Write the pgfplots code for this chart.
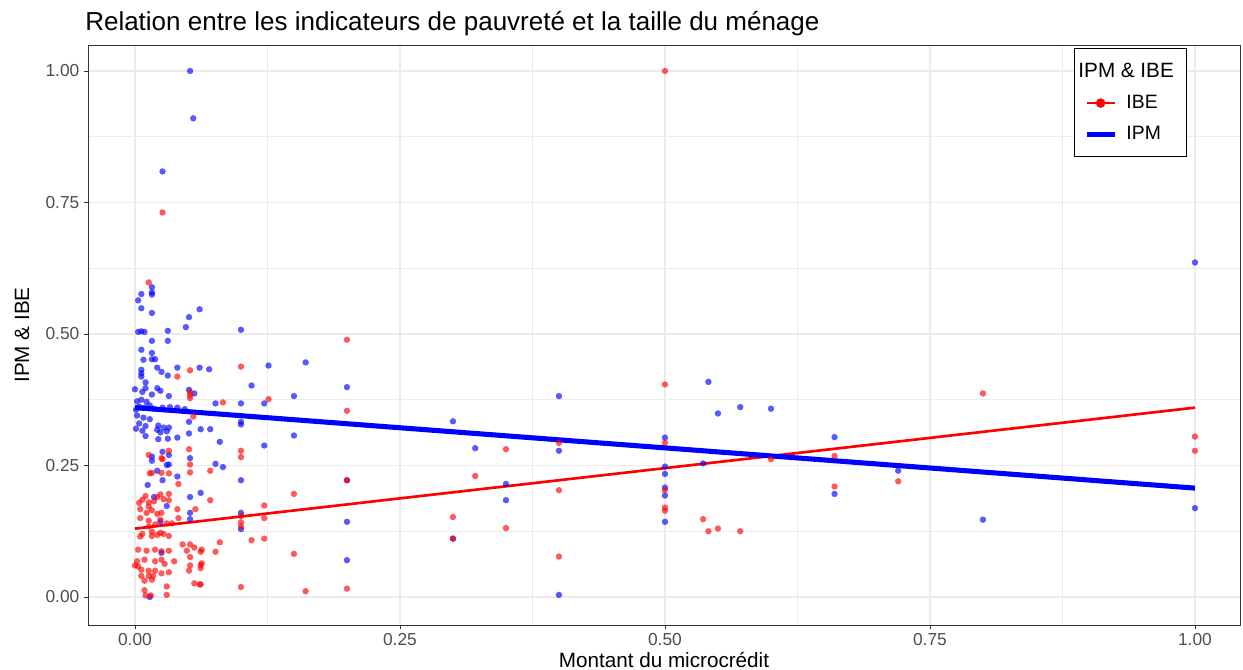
\documentclass[border=0pt]{standalone}
\usepackage{pgfplots}
\usepackage{pgfplotstable}
\pgfplotsset{compat=1.18}
\usepackage{fontspec}
\setmainfont{Liberation Sans}
\definecolor{gridgray}{RGB}{235,235,235}
\definecolor{gray20}{RGB}{51,51,51}
\definecolor{gray30}{RGB}{77,77,77}

\pgfplotstableread{
x y
0.052 1.000
0.055 0.910
0.026 0.809
1.000 0.636
0.660 0.304
0.660 0.196
0.720 0.240
0.800 0.147
1.000 0.169
0.541 0.409
0.400 0.382
0.550 0.349
0.571 0.361
0.600 0.358
0.300 0.334
0.321 0.283
0.400 0.278
0.500 0.303
0.536 0.254
0.500 0.248
0.500 0.234
0.350 0.215
0.500 0.208
0.500 0.193
0.350 0.184
0.500 0.143
0.300 0.111
0.400 0.004
0.126 0.440
0.161 0.446
0.200 0.399
0.150 0.382
0.122 0.368
0.150 0.307
0.122 0.288
0.200 0.222
0.200 0.143
0.200 0.070
0.110 0.402
0.100 0.508
0.100 0.368
0.100 0.333
0.100 0.328
0.100 0.222
0.100 0.160
0.100 0.129
0.076 0.368
0.062 0.319
0.071 0.319
0.080 0.295
0.076 0.253
0.083 0.247
0.062 0.198
0.061 0.547
0.061 0.436
0.070 0.433
0.051 0.532
0.048 0.513
0.051 0.394
0.056 0.387
0.051 0.333
0.051 0.311
0.052 0.264
0.052 0.190
0.052 0.160
0.052 0.148
0.040 0.436
0.040 0.229
0.032 0.382
0.031 0.421
0.031 0.487
0.031 0.506
0.025 0.428
0.021 0.436
0.016 0.589
0.016 0.579
0.016 0.575
0.006 0.576
0.003 0.564
0.006 0.549
0.016 0.540
0.003 0.504
0.009 0.504
0.006 0.505
0.016 0.487
0.006 0.470
0.016 0.464
0.008 0.451
0.016 0.452
0.019 0.452
0.006 0.432
0.006 0.425
0.006 0.419
0.000 0.395
0.010 0.408
0.010 0.397
0.021 0.397
0.024 0.392
0.016 0.385
0.007 0.390
0.002 0.372
0.006 0.375
0.011 0.371
0.004 0.362
0.009 0.360
0.014 0.364
0.001 0.356
0.018 0.358
0.026 0.360
0.033 0.361
0.040 0.360
0.047 0.357
0.002 0.345
0.008 0.341
0.014 0.338
0.004 0.330
0.010 0.325
0.001 0.320
0.007 0.316
0.010 0.306
0.022 0.326
0.027 0.322
0.032 0.322
0.021 0.318
0.024 0.313
0.030 0.315
0.022 0.300
0.031 0.301
0.040 0.303
0.026 0.276
0.016 0.259
0.030 0.251
0.016 0.267
0.032 0.270
0.032 0.252
0.021 0.240
0.026 0.222
0.012 0.213
0.018 0.190
0.030 0.173
0.024 0.143
0.025 0.084
0.014 0.000
}\ipmdata

\pgfplotstableread{
x y
0.500 1.000
0.026 0.731
0.013 0.598
0.200 0.489
0.500 0.404
0.800 0.387
0.660 0.268
0.660 0.210
0.720 0.220
1.000 0.305
1.000 0.278
0.350 0.281
0.400 0.293
0.500 0.293
0.600 0.262
0.321 0.230
0.400 0.203
0.500 0.203
0.300 0.152
0.500 0.170
0.500 0.164
0.536 0.148
0.541 0.125
0.550 0.130
0.571 0.125
0.350 0.131
0.300 0.111
0.400 0.077
0.126 0.376
0.200 0.354
0.200 0.222
0.150 0.196
0.122 0.174
0.122 0.150
0.122 0.111
0.150 0.082
0.161 0.011
0.200 0.016
0.100 0.438
0.052 0.431
0.040 0.419
0.052 0.389
0.052 0.384
0.052 0.378
0.083 0.370
0.055 0.343
0.032 0.278
0.051 0.281
0.013 0.270
0.025 0.264
0.100 0.278
0.100 0.266
0.071 0.240
0.071 0.184
0.100 0.154
0.100 0.142
0.100 0.134
0.110 0.108
0.080 0.104
0.062 0.086
0.076 0.086
0.062 0.061
0.062 0.055
0.062 0.024
0.100 0.019
0.026 0.262
0.052 0.252
0.052 0.237
0.014 0.235
0.032 0.235
0.016 0.236
0.025 0.236
0.041 0.215
0.040 0.167
0.057 0.167
0.041 0.150
0.007 0.185
0.013 0.180
0.018 0.182
0.021 0.190
0.024 0.195
0.027 0.186
0.032 0.196
0.032 0.184
0.010 0.192
0.004 0.179
0.013 0.172
0.016 0.165
0.011 0.160
0.021 0.158
0.025 0.160
0.005 0.167
0.005 0.150
0.013 0.145
0.024 0.147
0.030 0.140
0.035 0.140
0.019 0.138
0.013 0.134
0.007 0.120
0.005 0.115
0.016 0.124
0.021 0.118
0.024 0.122
0.027 0.120
0.032 0.116
0.016 0.116
0.045 0.100
0.052 0.100
0.056 0.094
0.049 0.088
0.063 0.090
0.003 0.090
0.011 0.088
0.019 0.090
0.025 0.087
0.032 0.088
0.002 0.068
0.009 0.071
0.019 0.068
0.025 0.071
0.028 0.063
0.037 0.068
0.052 0.076
0.052 0.060
0.063 0.064
0.051 0.050
0.006 0.052
0.013 0.050
0.019 0.050
0.006 0.040
0.013 0.040
0.017 0.040
0.025 0.045
0.032 0.047
0.009 0.031
0.016 0.033
0.056 0.026
0.061 0.024
0.030 0.020
0.030 0.004
0.009 0.013
0.010 0.003
0.015 0.003
0.000 0.060
0.003 0.058
}\ibedata

\begin{document}
\begin{tikzpicture}
\path[use as bounding box] (-66pt,-33.75pt) rectangle (866.25pt,468.75pt);
\begin{axis}[
  scale only axis, width=864pt, height=435pt,
  xmin=-0.0443, xmax=1.0425, ymin=-0.0532, ymax=1.0494,
  xtick={0,0.25,0.5,0.75,1}, ytick={0,0.25,0.5,0.75,1},
  xticklabels={0.00,0.25,0.50,0.75,1.00},
  yticklabels={0.00,0.25,0.50,0.75,1.00},
  minor xtick={0.125,0.375,0.625,0.875},
  minor ytick={0.125,0.375,0.625,0.875},
  grid=both,
  major grid style={gridgray, line width=0.9pt},
  minor grid style={gridgray, line width=0.5pt},
  axis line style={gray20, line width=0.6pt},
  xtick pos=bottom, ytick pos=left,
  tick align=outside, major tick length=3pt, minor tick length=0pt,
  tick style={gray20, line width=0.6pt},
  xticklabel style={font=\fontsize{13}{15}\selectfont, text=gray30},
  yticklabel style={font=\fontsize{13}{15}\selectfont, text=gray30},
  xlabel={Montant du microcrédit},
  ylabel={IPM \& IBE},
  xlabel style={font=\fontsize{15.5}{18}\selectfont, at={(axis description cs:0.5,-0.0603)}, anchor=center},
  ylabel style={font=\fontsize{15.5}{18}\selectfont, at={(axis description cs:-0.0573,0.5)}, anchor=center},
  title={Relation entre les indicateurs de pauvreté et la taille du ménage},
  title style={font=\fontsize{19.5}{22}\selectfont, at={(axis description cs:-0.0026,1.012)}, anchor=base west, inner sep=0pt},
  legend style={at={(axis description cs:0.954,0.995)}, anchor=north east, draw=black, line width=0.8pt, fill=white,
    font=\fontsize{14.5}{16}\selectfont, inner xsep=7.5pt, inner ysep=9pt, row sep=8pt,
    /tikz/every odd column/.append style={column sep=5pt}},
  legend cell align=left,
]
\addplot[only marks, mark=*, mark size=2.4pt, mark options={draw opacity=0, fill=blue, fill opacity=0.65}, forget plot] table[x=x,y=y] {\ipmdata};
\addplot[only marks, mark=*, mark size=2.4pt, mark options={draw opacity=0, fill=red, fill opacity=0.65}, forget plot] table[x=x,y=y] {\ibedata};
\addlegendimage{empty legend}
\addlegendentry{\hspace{-36pt}\fontsize{15.5}{18}\selectfont IPM \& IBE}
\addplot[red, line width=2pt, no marks,
  legend image code/.code={\draw[red,line width=2pt] (0pt,0pt) -- (21pt,0pt); \fill[red] (10.5pt,0pt) circle (2.5pt);}]
  coordinates {(0,0.130) (1,0.360)};
\addlegendentry{IBE}
\addplot[blue, line width=3.8pt, no marks,
  legend image code/.code={\draw[blue,line width=3.8pt] (0pt,0pt) -- (21pt,0pt);}]
  coordinates {(0,0.360) (1,0.207)};
\addlegendentry{IPM}
\end{axis}
\end{tikzpicture}
\end{document}
